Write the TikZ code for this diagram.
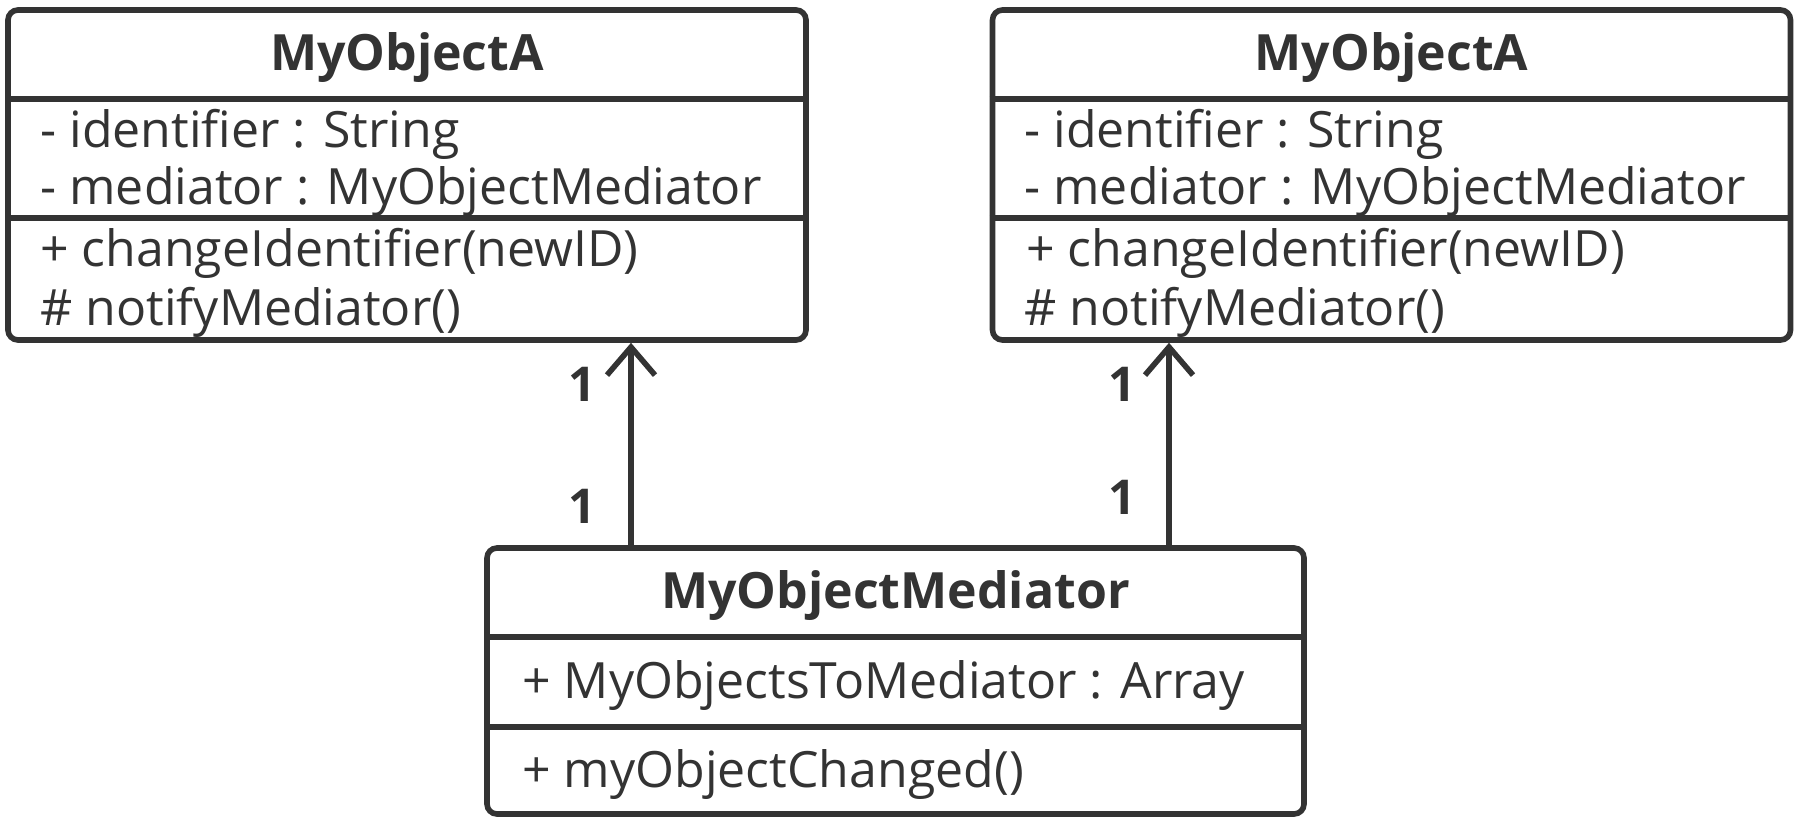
\documentclass[tikz,border=0pt]{standalone}
\usepackage{fontspec}
\setmainfont{Open Sans}
\usetikzlibrary{arrows.meta}
\definecolor{ink}{HTML}{333333}
\tikzset{
  classbox/.style={draw=ink, line width=2.8pt, rounded corners=5pt, fill=white, inner sep=0pt},
  sep/.style={draw=ink, line width=2.8pt},
  title/.style={font=\fontsize{25}{30}\selectfont\bfseries, text=ink, inner sep=0pt},
  member/.style={font=\fontsize{25}{30}\selectfont, text=ink, anchor=west, inner sep=0pt},
  mult/.style={font=\fontsize{24}{29}\selectfont\bfseries, text=ink, inner sep=0pt},
  assoc/.style={draw=ink, line width=2.8pt, -{Straight Barb[length=14pt,width=24pt,line width=2.8pt]}},
}
\begin{document}
\begin{tikzpicture}[x=0.5pt,y=-0.5pt]
\useasboundingbox (0,0) rectangle (1800,824);
% left class
\node[classbox, minimum width=399pt, minimum height=165pt] (a) at (407,175) {};
\draw[sep] (a.west |- 0,99) -- (a.east |- 0,99);
\draw[sep] (a.west |- 0,218) -- (a.east |- 0,218);
\node[title] (at) at (407,58) {MyObjectA};
\node[member] (a1) at (40,134) {- identifier : String};
\node[member] (a2) at (40,192) {- mediator : MyObjectMediator};
\node[member] (a3) at (40,253) {+ changeIdentifier(newID)};
\node[member] (a4) at (40,312) {\# notifyMediator()};
% right class
\node[classbox, minimum width=399pt, minimum height=165pt] (b) at (1391.5,175) {};
\draw[sep] (b.west |- 0,99) -- (b.east |- 0,99);
\draw[sep] (b.west |- 0,218) -- (b.east |- 0,218);
\node[title] (bt) at (1391.5,58) {MyObjectA};
\node[member] (b1) at (1024,134) {- identifier : String};
\node[member] (b2) at (1024,192) {- mediator : MyObjectMediator};
\node[member] (b3) at (1026,253) {+ changeIdentifier(newID)};
\node[member] (b4) at (1024,312) {\# notifyMediator()};
% mediator
\node[classbox, minimum width=408.5pt, minimum height=133pt] (m) at (895.5,681) {};
\draw[sep] (m.west |- 0,637) -- (m.east |- 0,637);
\draw[sep] (m.west |- 0,727) -- (m.east |- 0,727);
\node[title] (mt) at (895.5,596) {MyObjectMediator};
\node[member] (m1) at (522,686) {+ MyObjectsToMediator : Array};
\node[member] (m2) at (522,775) {+ myObjectChanged()};
% associations
\coordinate (ma) at (631,548);
\coordinate (mb) at (1169,548);
\draw[assoc] (ma) -- (ma |- a.south);
\draw[assoc] (mb) -- (mb |- b.south);
\node[mult] (l1) at (582,384) {1};
\node[mult] (l2) at (582,506) {1};
\node[mult] (r1) at (1122,384) {1};
\node[mult] (r2) at (1122,497) {1};
\end{tikzpicture}
\end{document}
